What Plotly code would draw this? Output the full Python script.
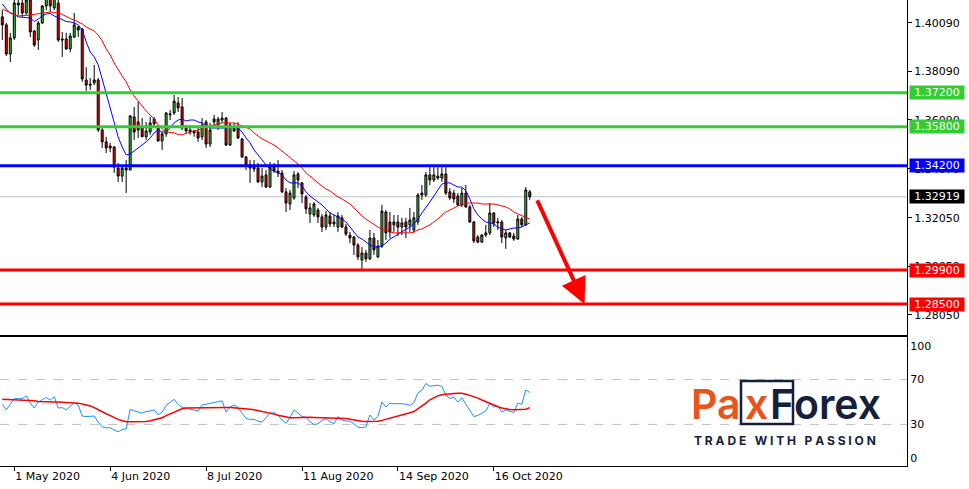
import pandas as pd
import plotly.graph_objects as go

# ---------------- data ----------------
dates = [d.strftime("%Y-%m-%d") for d in pd.bdate_range("2020-04-28", periods=133)]

open_ = [1.4033, 1.4000, 1.3880, 1.3946, 1.4082, 1.4090, 1.4049, 1.4102, 1.3975, 1.3938,
         1.4008, 1.4078, 1.4111, 1.4070, 1.4090, 1.3942, 1.3942, 1.3901, 1.3950, 1.3991,
         1.3983, 1.3773, 1.3756, 1.3761, 1.3773, 1.3567, 1.3518, 1.3501, 1.3497, 1.3410,
         1.3377, 1.3402, 1.3402, 1.3621, 1.3600, 1.3575, 1.3539, 1.3559, 1.3612, 1.3575,
         1.3522, 1.3551, 1.3629, 1.3637, 1.3678, 1.3662, 1.3575, 1.3559, 1.3563, 1.3559,
         1.3539, 1.3600, 1.3509, 1.3612, 1.3588, 1.3608, 1.3616, 1.3505, 1.3575, 1.3575,
         1.3530, 1.3456, 1.3423, 1.3419, 1.3410, 1.3353, 1.3382, 1.3332, 1.3414, 1.3398,
         1.3390, 1.3312, 1.3262, 1.3287, 1.3386, 1.3349, 1.3291, 1.3221, 1.3217, 1.3237,
         1.3209, 1.3167, 1.3213, 1.3180, 1.3167, 1.3205, 1.3167, 1.3134, 1.3126, 1.3093,
         1.3031, 1.3060, 1.3036, 1.3122, 1.3044, 1.3089, 1.3229, 1.3188, 1.3176, 1.3188,
         1.3167, 1.3188, 1.3176, 1.3155, 1.3188, 1.3307, 1.3299, 1.3382, 1.3361, 1.3377,
         1.3369, 1.3386, 1.3312, 1.3307, 1.3295, 1.3258, 1.3307, 1.3250, 1.3188, 1.3126,
         1.3105, 1.3134, 1.3143, 1.3225, 1.3184, 1.3188, 1.3122, 1.3143, 1.3130, 1.3118,
         1.3200, 1.3176, 1.3312]

high = [1.4061, 1.4008, 1.3967, 1.4111, 1.4115, 1.4115, 1.4119, 1.4119, 1.3979, 1.4016,
        1.4082, 1.4123, 1.4123, 1.4123, 1.4111, 1.3971, 1.3967, 1.3967, 1.4049, 1.3995,
        1.3987, 1.3826, 1.3781, 1.3835, 1.3781, 1.3575, 1.3539, 1.3514, 1.3501, 1.3431,
        1.3423, 1.3443, 1.3629, 1.3662, 1.3682, 1.3616, 1.3600, 1.3621, 1.3621, 1.3588,
        1.3559, 1.3641, 1.3649, 1.3711, 1.3703, 1.3699, 1.3588, 1.3588, 1.3567, 1.3575,
        1.3616, 1.3608, 1.3596, 1.3629, 1.3621, 1.3641, 1.3621, 1.3596, 1.3596, 1.3600,
        1.3534, 1.3460, 1.3443, 1.3443, 1.3431, 1.3410, 1.3402, 1.3435, 1.3431, 1.3443,
        1.3402, 1.3328, 1.3320, 1.3398, 1.3394, 1.3353, 1.3299, 1.3266, 1.3270, 1.3246,
        1.3221, 1.3233, 1.3229, 1.3217, 1.3229, 1.3217, 1.3180, 1.3147, 1.3130, 1.3101,
        1.3085, 1.3073, 1.3155, 1.3143, 1.3114, 1.3258, 1.3237, 1.3229, 1.3217, 1.3217,
        1.3205, 1.3205, 1.3246, 1.3229, 1.3307, 1.3340, 1.3394, 1.3414, 1.3414, 1.3414,
        1.3414, 1.3414, 1.3328, 1.3320, 1.3307, 1.3328, 1.3340, 1.3258, 1.3192, 1.3134,
        1.3138, 1.3176, 1.3266, 1.3229, 1.3205, 1.3196, 1.3155, 1.3147, 1.3143, 1.3217,
        1.3209, 1.3332, 1.3320]

low = [1.3938, 1.3872, 1.3847, 1.3938, 1.4041, 1.4033, 1.4041, 1.3950, 1.3909, 1.3897,
       1.4004, 1.4061, 1.4053, 1.4061, 1.3930, 1.3868, 1.3897, 1.3888, 1.3946, 1.3950,
       1.3765, 1.3728, 1.3732, 1.3752, 1.3559, 1.3493, 1.3472, 1.3476, 1.3390, 1.3353,
       1.3353, 1.3307, 1.3402, 1.3526, 1.3534, 1.3539, 1.3526, 1.3547, 1.3579, 1.3518,
       1.3485, 1.3539, 1.3608, 1.3629, 1.3641, 1.3567, 1.3555, 1.3547, 1.3539, 1.3518,
       1.3526, 1.3493, 1.3497, 1.3579, 1.3567, 1.3596, 1.3501, 1.3501, 1.3559, 1.3530,
       1.3452, 1.3402, 1.3349, 1.3394, 1.3349, 1.3332, 1.3328, 1.3328, 1.3390, 1.3373,
       1.3307, 1.3229, 1.3237, 1.3279, 1.3328, 1.3266, 1.3221, 1.3184, 1.3209, 1.3184,
       1.3147, 1.3155, 1.3167, 1.3167, 1.3147, 1.3163, 1.3130, 1.3101, 1.3052, 1.3031,
       1.2994, 1.3023, 1.3031, 1.3052, 1.3040, 1.3081, 1.3114, 1.3122, 1.3147, 1.3130,
       1.3134, 1.3122, 1.3147, 1.3143, 1.3176, 1.3279, 1.3291, 1.3340, 1.3353, 1.3361,
       1.3353, 1.3299, 1.3279, 1.3266, 1.3254, 1.3250, 1.3246, 1.3184, 1.3101, 1.3101,
       1.3101, 1.3126, 1.3134, 1.3167, 1.3155, 1.3101, 1.3077, 1.3122, 1.3110, 1.3114,
       1.3167, 1.3172, 1.3279]

close = [1.4000, 1.3880, 1.3946, 1.4090, 1.4090, 1.4049, 1.4102, 1.3971, 1.3917, 1.4008,
         1.4078, 1.4111, 1.4078, 1.4111, 1.3938, 1.3938, 1.3901, 1.3954, 1.4000, 1.3979,
         1.3777, 1.3752, 1.3752, 1.3773, 1.3567, 1.3518, 1.3493, 1.3493, 1.3414, 1.3377,
         1.3410, 1.3410, 1.3625, 1.3559, 1.3567, 1.3539, 1.3563, 1.3596, 1.3592, 1.3522,
         1.3551, 1.3637, 1.3633, 1.3686, 1.3658, 1.3575, 1.3563, 1.3567, 1.3555, 1.3534,
         1.3588, 1.3509, 1.3567, 1.3600, 1.3612, 1.3616, 1.3505, 1.3588, 1.3563, 1.3534,
         1.3456, 1.3423, 1.3410, 1.3406, 1.3353, 1.3377, 1.3332, 1.3414, 1.3398, 1.3390,
         1.3312, 1.3266, 1.3307, 1.3382, 1.3361, 1.3303, 1.3242, 1.3246, 1.3262, 1.3209,
         1.3167, 1.3217, 1.3180, 1.3188, 1.3213, 1.3167, 1.3138, 1.3122, 1.3093, 1.3044,
         1.3060, 1.3036, 1.3122, 1.3073, 1.3089, 1.3233, 1.3143, 1.3147, 1.3188, 1.3167,
         1.3184, 1.3167, 1.3196, 1.3205, 1.3299, 1.3299, 1.3382, 1.3361, 1.3382, 1.3369,
         1.3386, 1.3307, 1.3287, 1.3283, 1.3258, 1.3307, 1.3250, 1.3188, 1.3110, 1.3105,
         1.3134, 1.3143, 1.3225, 1.3184, 1.3188, 1.3126, 1.3143, 1.3126, 1.3118, 1.3200,
         1.3176, 1.3320, 1.32919]

ma_fast = [1.4086, 1.4065, 1.4049, 1.4043, 1.4033, 1.4030, 1.4030, 1.4028, 1.4014, 1.4024,
           1.4037, 1.4045, 1.4047, 1.4037, 1.4030, 1.4022, 1.4014, 1.4012, 1.4008, 1.4000,
           1.3979, 1.3930, 1.3888, 1.3868, 1.3835, 1.3777, 1.3715, 1.3662, 1.3600, 1.3538,
           1.3497, 1.3464, 1.3468, 1.3480, 1.3493, 1.3505, 1.3518, 1.3534, 1.3555, 1.3567,
           1.3559, 1.3559, 1.3575, 1.3596, 1.3608, 1.3612, 1.3604, 1.3608, 1.3608, 1.3600,
           1.3596, 1.3583, 1.3575, 1.3575, 1.3575, 1.3575, 1.3575, 1.3579, 1.3579, 1.3575,
           1.3559, 1.3534, 1.3514, 1.3485, 1.3464, 1.3447, 1.3423, 1.3406, 1.3398, 1.3390,
           1.3382, 1.3361, 1.3349, 1.3349, 1.3349, 1.3336, 1.3312, 1.3295, 1.3283, 1.3270,
           1.3258, 1.3242, 1.3225, 1.3217, 1.3209, 1.3200, 1.3188, 1.3167, 1.3143, 1.3126,
           1.3118, 1.3105, 1.3093, 1.3085, 1.3085, 1.3089, 1.3101, 1.3118, 1.3126, 1.3138,
           1.3147, 1.3155, 1.3167, 1.3180, 1.3200, 1.3225, 1.3246, 1.3270, 1.3295, 1.3320,
           1.3344, 1.3349, 1.3349, 1.3340, 1.3332, 1.3332, 1.3316, 1.3283, 1.3242, 1.3217,
           1.3200, 1.3188, 1.3184, 1.3180, 1.3167, 1.3159, 1.3155, 1.3159, 1.3163, 1.3163,
           1.3167, 1.3176, 1.3184]

ma_slow = [1.4065, 1.4057, 1.4049, 1.4043, 1.4037, 1.4037, 1.4039, 1.4041, 1.4043, 1.4045,
           1.4047, 1.4051, 1.4053, 1.4051, 1.4049, 1.4043, 1.4033, 1.4026, 1.4020, 1.4012,
           1.4004, 1.3991, 1.3983, 1.3975, 1.3958, 1.3934, 1.3901, 1.3876, 1.3843, 1.3814,
           1.3789, 1.3765, 1.3732, 1.3707, 1.3686, 1.3662, 1.3645, 1.3629, 1.3612, 1.3588,
           1.3571, 1.3559, 1.3557, 1.3555, 1.3548, 1.3547, 1.3553, 1.3559, 1.3563, 1.3567,
           1.3573, 1.3579, 1.3583, 1.3588, 1.3592, 1.3596, 1.3596, 1.3596, 1.3596, 1.3590,
           1.3583, 1.3577, 1.3571, 1.3555, 1.3543, 1.3530, 1.3522, 1.3514, 1.3505, 1.3493,
           1.3480, 1.3464, 1.3452, 1.3439, 1.3427, 1.3410, 1.3390, 1.3377, 1.3361, 1.3349,
           1.3336, 1.3324, 1.3316, 1.3303, 1.3291, 1.3283, 1.3274, 1.3262, 1.3246, 1.3229,
           1.3213, 1.3200, 1.3188, 1.3176, 1.3167, 1.3159, 1.3151, 1.3147, 1.3143, 1.3143,
           1.3143, 1.3143, 1.3143, 1.3147, 1.3155, 1.3159, 1.3167, 1.3176, 1.3188, 1.3200,
           1.3217, 1.3229, 1.3237, 1.3246, 1.3254, 1.3258, 1.3266, 1.3266, 1.3266, 1.3266,
           1.3262, 1.3262, 1.3262, 1.3262, 1.3258, 1.3254, 1.3250, 1.3242, 1.3229, 1.3221,
           1.3213, 1.3205, 1.3200]

rsi = [48, 43, 48, 53, 53, 53, 55.6, 49, 44.6, 50,
       52, 54, 51.8, 54.6, 44.6, 45, 43, 46, 49.4, 47.3,
       37.5, 37, 37.5, 37.5, 32, 28, 27, 27, 25, 23.5,
       25.6, 25.9, 43.4, 42, 41, 40, 41.5, 42, 43, 38.5,
       41, 47, 50, 52.4, 48, 45, 44.5, 43.5, 42.5, 42,
       47.3, 48, 48.5, 49.5, 50, 51, 41, 45.5, 47.3, 45,
       40, 35.4, 34.5, 34.5, 33, 32, 36, 40, 40.5, 38,
       34, 31, 36, 43, 40, 37, 36.5, 32.4, 30, 30.5,
       33.5, 35, 32.5, 30.5, 37, 34, 33, 33, 30.5, 27.5,
       27, 28, 38.4, 34, 37, 50, 45.5, 48.7, 48.5, 48.7,
       48.5, 48, 47, 49.5, 58, 60.5, 66.5, 64, 64.5, 65,
       64, 56, 53, 54.5, 50, 53.9, 48, 42, 37, 38,
       40, 42, 48.7, 45.5, 46.5, 41, 43, 42, 40.5, 49,
       48, 60.7, 58.5]

rsi_ma = [52.4, 52.3, 52.2, 52.1, 52.0, 52.0, 51.9, 51.8, 51.2, 50.5,
          50.2, 50.0, 50.0, 49.9, 49.9, 49.8, 49.8, 49.7, 49.7, 49.0,
          48.3, 47.6, 46.5, 45.0, 43.4, 41.5, 39.5, 37.8, 36.0, 34.5,
          33.2, 32.4, 32.3, 32.3, 32.3, 32.4, 32.6, 33.2, 34.0, 34.8,
          36.0, 37.8, 39.5, 41.0, 42.5, 44.0, 44.6, 44.7, 44.7, 44.7,
          44.8, 45.0, 45.3, 45.5, 45.5, 45.4, 45.2, 45.0, 44.8, 44.4,
          44.0, 43.8, 43.5, 43.0, 42.3, 41.6, 41.1, 40.3, 39.2, 38.2,
          37.2, 36.3, 35.9, 35.9, 36.1, 36.3, 36.4, 36.3, 36.2, 36.1,
          36.0, 35.9, 35.8, 35.7, 35.6, 35.5, 35.2, 34.6, 33.9, 33.2,
          32.8, 32.5, 32.4, 32.4, 32.8, 33.6, 34.5, 35.5, 36.5, 37.5,
          38.5, 39.5, 40.4, 41.5, 43.8, 46.3, 49.0, 52.0, 54.0, 55.5,
          56.5, 57.0, 57.3, 57.5, 57.7, 57.7, 57.0, 56.0, 55.0, 53.5,
          51.8, 50.2, 48.5, 47.0, 45.8, 44.6, 43.7, 43.3, 43.0, 43.0,
          43.0, 43.5, 45.0]

levels = [1.3720, 1.3580, 1.3420, 1.2990, 1.2850]
level_colors = ["#32CD32", "#32CD32", "#0000FF", "#FF0000", "#FF0000"]
last_price = 1.32919

price_ticks = [1.4009, 1.3809, 1.3609, 1.3407, 1.3205, 1.3005, 1.2805]
rsi_ticks = [0, 30, 70, 100]
rsi_levels = [30, 70]

date_ticks = ["2020-05-01", "2020-06-04", "2020-07-08", "2020-08-11", "2020-09-14", "2020-10-16"]
date_labels = ["1 May 2020", "4 Jun 2020", "8 Jul 2020", "11 Aug 2020", "14 Sep 2020", "16 Oct 2020"]

# forecast arrow (bar index, price)
arrow_from = (133.7, 1.3283)
arrow_to = (145.7, 1.2850)

# ---------------- figure ----------------
FONT = "DejaVu Sans"
ORANGE = "#E8541E"
NAVY = "#14213D"
fig = go.Figure()

fig.add_trace(go.Candlestick(
    x=dates, open=open_, high=high, low=low, close=close,
    increasing=dict(line=dict(color="black", width=1), fillcolor="#32CD32"),
    decreasing=dict(line=dict(color="black", width=1), fillcolor="#FF0000"),
    whiskerwidth=0, xaxis="x", yaxis="y", hoverinfo="skip"))
fig.add_trace(go.Scatter(x=dates, y=ma_fast, mode="lines", xaxis="x", yaxis="y",
                         line=dict(color="#0000FF", width=1), hoverinfo="skip"))
fig.add_trace(go.Scatter(x=dates, y=ma_slow, mode="lines", xaxis="x", yaxis="y",
                         line=dict(color="#FF0000", width=1), hoverinfo="skip"))
fig.add_trace(go.Scatter(x=dates, y=rsi, mode="lines", xaxis="x2", yaxis="y2",
                         line=dict(color="#1E90FF", width=1), hoverinfo="skip"))
fig.add_trace(go.Scatter(x=dates, y=rsi_ma, mode="lines", xaxis="x2", yaxis="y2",
                         line=dict(color="#FF0000", width=1.5), hoverinfo="skip"))

xr = [-0.575, 226.4]
XD = [0, 907 / 969]

fig.update_layout(
    width=969, height=489, margin=dict(l=0, r=0, t=0, b=0),
    paper_bgcolor="white", plot_bgcolor="white", showlegend=False,
    font=dict(family=FONT, size=11, color="black"),
    xaxis=dict(domain=XD, type="category", range=xr, anchor="y",
               showticklabels=False, ticks="", showgrid=False,
               showline=True, linecolor="black", linewidth=1,
               rangeslider=dict(visible=False)),
    yaxis=dict(domain=[1 - 335 / 489, 1], anchor="x", side="right",
               range=[1.27223, 1.41025], tickvals=price_ticks,
               ticktext=[f"{v:.5f}" for v in price_ticks],
               ticks="outside", ticklen=4, tickcolor="black",
               showgrid=False, zeroline=False,
               showline=True, linecolor="black", linewidth=1),
    xaxis2=dict(domain=XD, type="category", range=xr, anchor="y2",
                categoryorder="array", categoryarray=dates,
                tickvals=date_ticks, ticktext=date_labels,
                ticks="outside", ticklen=4, tickcolor="black",
                ticklabelposition="outside right",
                showgrid=False, showline=True, mirror=True,
                linecolor="black", linewidth=1),
    yaxis2=dict(domain=[1 - 466 / 489, 1 - 337 / 489], anchor="x2", side="right",
                range=[-7.1, 108], tickvals=rsi_ticks,
                ticktext=[str(v) for v in rsi_ticks], ticks="",
                showgrid=False, zeroline=False,
                showline=True, linecolor="black", linewidth=1),
)

# RSI reference levels
for lv in rsi_levels:
    fig.add_shape(type="line", xref="x2 domain", x0=0, x1=1, yref="y2", y0=lv, y1=lv,
                  line=dict(color="#C0C0C0", width=1, dash="dash"), layer="below")

# current price line
fig.add_shape(type="line", xref="x domain", x0=0, x1=1, yref="y", y0=last_price, y1=last_price,
              line=dict(color="#C0C0C0", width=1), layer="below")

# horizontal support / resistance levels with right-side labels
for lv, col in zip(levels, level_colors):
    fig.add_shape(type="line", xref="x domain", x0=0, x1=1, yref="y", y0=lv, y1=lv,
                  line=dict(color=col, width=3))
    fig.add_annotation(xref="paper", x=909 / 969, xanchor="left", yref="y", y=lv,
                       text=f"{lv:.5f}", showarrow=False, bgcolor=col,
                       font=dict(color="white", size=11, family=FONT),
                       width=54, height=13, borderpad=0)

fig.add_annotation(xref="paper", x=909 / 969, xanchor="left", yref="y", y=last_price,
                   text=f"{last_price:.5f}", showarrow=False, bgcolor="black",
                   font=dict(color="white", size=11, family=FONT),
                   width=54, height=13, borderpad=0)

# forecast arrow
fig.add_annotation(xref="x", yref="y", axref="x", ayref="y",
                   x=arrow_to[0], y=arrow_to[1], ax=arrow_from[0], ay=arrow_from[1],
                   text="", showarrow=True, arrowhead=2, arrowsize=1.3,
                   arrowwidth=4, arrowcolor="#FF0000")

# logo
fig.add_shape(type="rect", xref="paper", yref="paper",
              x0=741 / 969, x1=793 / 969, y0=1 - 424 / 489, y1=1 - 381 / 489,
              line=dict(color=NAVY, width=2.5))
for txt, px, col in [("Pa", 689, ORANGE), ("x", 743, ORANGE), ("F", 768, NAVY), ("orex", 792, NAVY)]:
    fig.add_annotation(xref="paper", yref="paper", x=px / 969, y=1 - 404 / 489,
                       xanchor="left", yanchor="middle", showarrow=False,
                       text=txt, font=dict(family="Inter", size=41, weight=600, color=col))
fig.add_annotation(xref="paper", yref="paper", x=692 / 969, y=1 - 440 / 489,
                   xanchor="left", yanchor="middle", showarrow=False,
                   text="<b>T R A D E&nbsp;&nbsp; W I T H&nbsp;&nbsp; P A S S I O N</b>",
                   font=dict(family="Inter", size=12, color=NAVY))

fig.write_html("out.html", config={"displayModeBar": False},
               post_script="document.body.style.margin='0';document.body.style.overflow='hidden';")
